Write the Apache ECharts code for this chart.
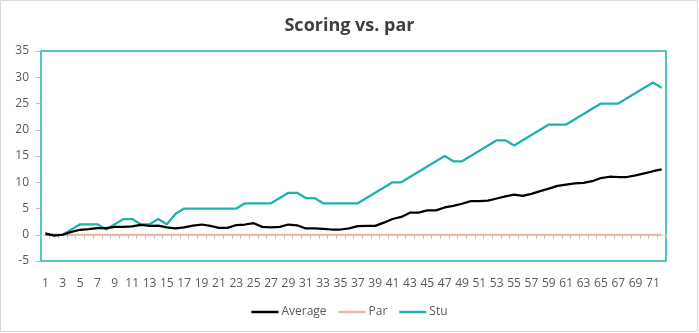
<!DOCTYPE html>
<html>
<head>
<meta charset="utf-8">
<script src="https://cdn.jsdelivr.net/npm/echarts@6/dist/echarts.min.js"></script>
<style>
html,body{margin:0;padding:0;background:#fff;}
#c{width:699px;height:333px;}
</style>
</head>
<body>
<div id="c"></div>
<script>
var categories = ["1","2","3","4","5","6","7","8","9","10","11","12","13","14","15","16","17","18","19","20","21","22","23","24","25","26","27","28","29","30","31","32","33","34","35","36","37","38","39","40","41","42","43","44","45","46","47","48","49","50","51","52","53","54","55","56","57","58","59","60","61","62","63","64","65","66","67","68","69","70","71","72"];
var averageValues = [0.25,-0.15,0,0.55,0.95,1.05,1.25,1.25,1.5,1.5,
  1.6,1.9,1.7,1.75,1.4,1.2,1.4,1.75,1.95,1.7,
  1.3,1.3,1.85,1.95,2.2,1.5,1.4,1.5,1.95,1.8,
  1.2,1.2,1.1,1.0,1.0,1.2,1.65,1.7,1.7,2.3,
  3.0,3.4,4.2,4.2,4.65,4.65,5.2,5.5,5.9,6.4,
  6.4,6.5,6.9,7.3,7.65,7.4,7.8,8.3,8.8,9.3,
  9.55,9.8,9.9,10.2,10.8,11.05,11.0,11.0,11.3,11.7,
  12.1,12.45];
var parValues = [0,0,0,0,0,0,0,0,0,0,0,0,0,0,0,0,0,0,0,0,0,0,0,0,0,0,0,0,0,0,0,0,0,0,0,0,0,0,0,0,0,0,0,0,0,0,0,0,0,0,0,0,0,0,0,0,0,0,0,0,0,0,0,0,0,0,0,0,0,0,0,0];
var stuValues = [0,0,0,1,2,2,2,1,2,3,
  3,2,2,3,2,4,5,5,5,5,
  5,5,5,6,6,6,6,7,8,8,
  7,7,6,6,6,6,6,7,8,9,
  10,10,11,12,13,14,15,14,14,15,
  16,17,18,18,17,18,19,20,21,21,
  21,22,23,24,25,25,25,26,27,28,
  29,28];
var yTicks = {min: -5, max: 35, step: 5};
var titleText = "Scoring vs. par";
var seriesNames = ["Average", "Par", "Stu"];

var FONT = '"Open Sans", "Noto Sans", sans-serif';
var chart = echarts.init(document.getElementById('c'), null, {renderer: 'canvas'});
chart.setOption({
  animation: false,
  backgroundColor: '#ffffff',
  textStyle: {fontFamily: FONT},
  graphic: [{
    type: 'rect', shape: {x: 0.5, y: 0.5, width: 697, height: 331},
    style: {fill: 'none', stroke: '#d9d9d9', lineWidth: 1}, silent: true
  }],
  title: {
    text: titleText, left: 'center', top: 17, padding: 0,
    textStyle: {fontFamily: FONT, fontSize: 18, fontWeight: 'bold', color: '#404040'}
  },
  legend: {
    data: seriesNames, top: 306, left: 'center', padding: 0,
    icon: 'rect', itemWidth: 27, itemHeight: 2.5, itemGap: 12,
    textStyle: {fontFamily: FONT, fontSize: 12, color: '#595959', padding: [0, 0, 0, -2]}
  },
  grid: {
    left: 41, right: 33, top: 51, bottom: 72, show: true,
    borderColor: '#1fb2ad', borderWidth: 1.5, backgroundColor: 'transparent'
  },
  xAxis: {
    type: 'category', data: categories, boundaryGap: true,
    axisLine: {show: true, onZero: true, lineStyle: {color: '#d9d9d9', width: 1}},
    axisTick: {show: true, interval: 0, length: 4, lineStyle: {color: '#bfbfbf'}},
    axisLabel: {interval: 1, margin: 17, fontSize: 12, color: '#595959', fontFamily: FONT},
    splitLine: {show: false}
  },
  yAxis: {
    type: 'value', min: yTicks.min, max: yTicks.max, interval: yTicks.step,
    axisLine: {show: false},
    axisTick: {show: true, length: 5, lineStyle: {color: '#bfbfbf'}},
    axisLabel: {margin: 12, fontSize: 12, color: '#595959', fontFamily: FONT},
    splitLine: {show: false}
  },
  series: [
    {name: seriesNames[0], type: 'line', data: averageValues, symbol: 'none',
     lineStyle: {color: '#000000', width: 2.25}, itemStyle: {color: '#000000'}, z: 4},
    {name: seriesNames[1], type: 'line', data: parValues, symbol: 'none',
     lineStyle: {color: '#f4b3a3', width: 2}, itemStyle: {color: '#f4b3a3'}, z: 2},
    {name: seriesNames[2], type: 'line', data: stuValues, symbol: 'none',
     lineStyle: {color: '#1fb2ad', width: 2.25}, itemStyle: {color: '#1fb2ad'}, z: 3}
  ]
});
</script>
</body>
</html>
